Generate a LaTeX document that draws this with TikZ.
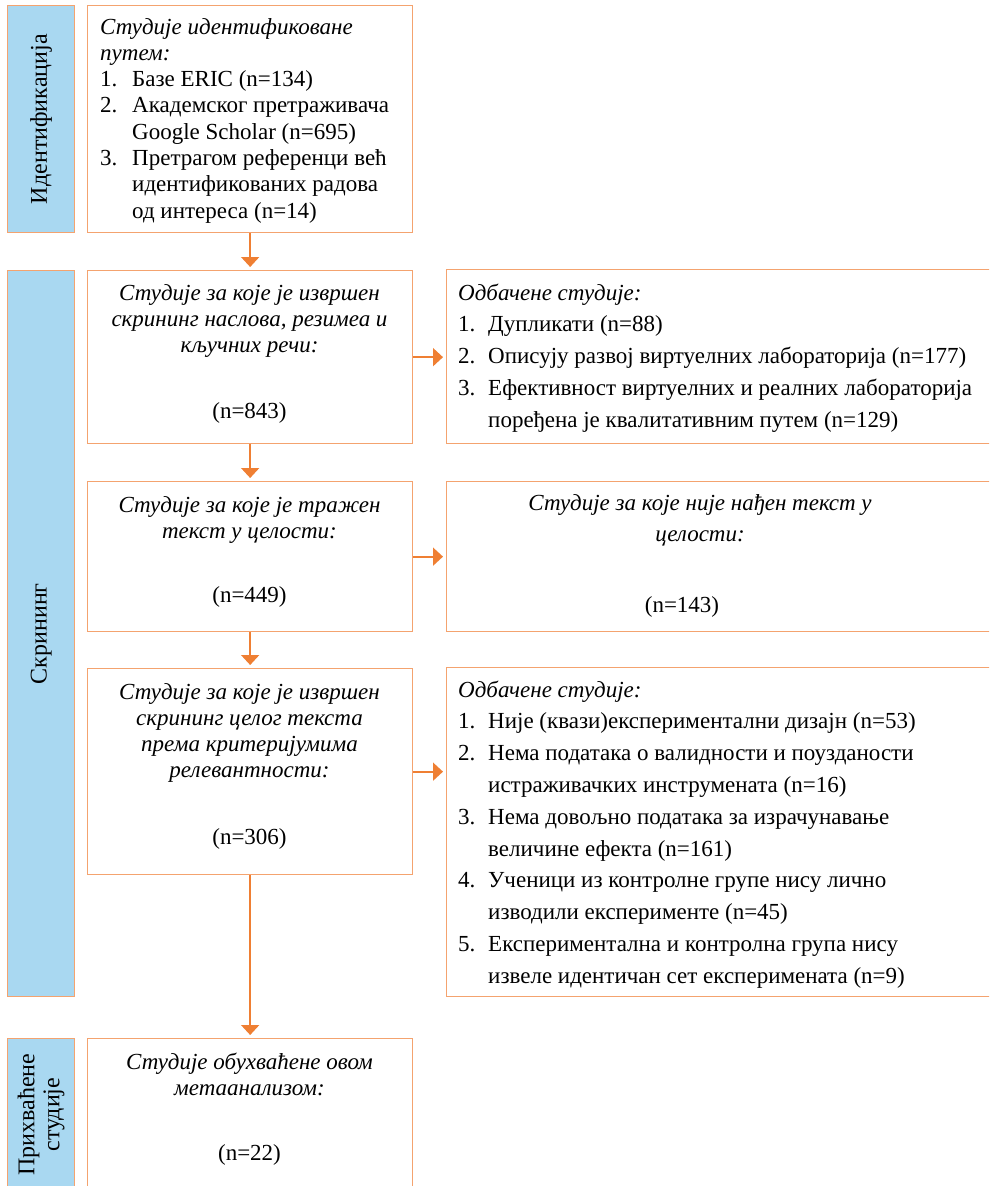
\documentclass[tikz,border=0pt]{standalone}
\usepackage{fontspec}
\setmainfont{Liberation Serif}[Script=Cyrillic,Language=Serbian]
\usetikzlibrary{arrows.meta}
\definecolor{boxline}{HTML}{F4A36F}
\definecolor{arrowline}{HTML}{EF7F33}
\definecolor{stagefill}{HTML}{A9D8F1}
\newcommand{\maintext}{\fontsize{23}{26.3}\selectfont}
\newcommand{\listtext}{\fontsize{23}{31.8}\selectfont}
\begin{document}
\begin{tikzpicture}[x=1pt,y=-1pt,
  stagebox/.style={draw=boxline,fill=stagefill,line width=1.3pt,anchor=north west,inner sep=0pt},
  flowbox/.style={draw=boxline,fill=white,line width=1.3pt,anchor=north west,inner sep=0pt},
  stagelabel/.style={rotate=90,align=center,font=\fontsize{24}{25}\selectfont,inner sep=0pt},
  boxtitle/.style={anchor=base,font=\maintext\itshape,inner sep=0pt},
  boxcount/.style={anchor=base,font=\maintext,inner sep=0pt},
  boxlist/.style={anchor=base west,font=\listtext,inner sep=0pt},
  flowarrow/.style={draw=arrowline,line width=1.8pt,shorten >=3pt,-{Triangle[width=18pt,length=10pt]}}]
  \useasboundingbox (0,0) rectangle (989,1186);
  \clip (0,0) rectangle (989,1186);

  \node[stagebox,minimum width=67,minimum height=227] (idstage) at (7,5) {};
  \node[stagebox,minimum width=67,minimum height=726] (scrstage) at (7,270) {};
  \node[stagebox,minimum width=67,minimum height=152] (instage) at (7,1038) {};
  \node[stagelabel] (idlabel) at (idstage.center) {Идентификација};
  \node[stagelabel] (scrlabel) at (scrstage.center) {Скрининг};
  \node[stagelabel] (inlabel) at (instage.center) {Прихваћене\\студије};

  \node[flowbox,minimum width=325,minimum height=227] (idbox) at (87,5) {};
  \node[flowbox,minimum width=325,minimum height=173] (scrbox) at (87,270) {};
  \node[flowbox,minimum width=325,minimum height=150] (fullbox) at (87,481) {};
  \node[flowbox,minimum width=325,minimum height=206] (relbox) at (87,668) {};
  \node[flowbox,minimum width=325,minimum height=152] (metabox) at (87,1038) {};
  \node[flowbox,minimum width=560,minimum height=174] (dropone) at (446,269) {};
  \node[flowbox,minimum width=560,minimum height=150] (notfound) at (446,481) {};
  \node[flowbox,minimum width=560,minimum height=329] (droptwo) at (446,667) {};

  \node[anchor=base west,font=\maintext,inner sep=0pt] (idtext) at (100,34) {%
    \begin{tabular}[t]{@{}p{32pt}@{}l@{}}
      \multicolumn{2}{@{}l@{}}{\itshape Студије идентификоване}\\
      \multicolumn{2}{@{}l@{}}{\itshape путем:}\\
      1. & Базе ERIC (n=134)\\
      2. & Академског претраживача\\
         & Google Scholar (n=695)\\
      3. & Претрагом референци већ\\
         & идентификованих радова\\
         & од интереса (n=14)
    \end{tabular}};

  \node[boxtitle] (scrtitle) at (249.5,300) {\begin{tabular}[t]{@{}c@{}}Студије за које је извршен\\скрининг наслова, резимеа и\\кључних речи:\end{tabular}};
  \node[boxcount] (scrcount) at (249.5,418) {(n=843)};
  \node[boxtitle] (fulltitle) at (249.5,512) {\begin{tabular}[t]{@{}c@{}}Студије за које је тражен\\текст у целости:\end{tabular}};
  \node[boxcount] (fullcount) at (249.5,602) {(n=449)};
  \node[boxtitle] (reltitle) at (249.5,699) {\begin{tabular}[t]{@{}c@{}}Студије за које је извршен\\скрининг целог текста\\према критеријумима\\релевантности:\end{tabular}};
  \node[boxcount] (relcount) at (249.5,844) {(n=306)};
  \node[boxtitle] (metatitle) at (249.5,1069) {\begin{tabular}[t]{@{}c@{}}Студије обухваћене овом\\метаанализом:\end{tabular}};
  \node[boxcount] (metacount) at (249.5,1160) {(n=22)};

  \node[boxlist] (droponetext) at (458,300) {%
    \begin{tabular}[t]{@{}p{30pt}@{}l@{}}
      \multicolumn{2}{@{}l@{}}{\itshape Одбачене студије:}\\
      1. & Дупликати (n=88)\\
      2. & Описују развој виртуелних лабораторија (n=177)\\
      3. & Ефективност виртуелних и реалних лабораторија\\
         & поређена је квалитативним путем (n=129)
    \end{tabular}};
  \node[anchor=base,font=\listtext\itshape,inner sep=0pt] (notfoundtitle) at (700,510) {\begin{tabular}[t]{@{}c@{}}Студије за које није нађен текст у\\целости:\end{tabular}};
  \node[boxcount] (notfoundcount) at (682,612) {(n=143)};
  \node[boxlist] (droptwotext) at (458,697) {%
    \begin{tabular}[t]{@{}p{30pt}@{}l@{}}
      \multicolumn{2}{@{}l@{}}{\itshape Одбачене студије:}\\
      1. & Није (квази)експериментални дизајн (n=53)\\
      2. & Нема података о валидности и поузданости\\
         & истраживачких инструмената (n=16)\\
      3. & Нема довољно података за израчунавање\\
         & величине ефекта (n=161)\\
      4. & Ученици из контролне групе нису лично\\
         & изводили експерименте (n=45)\\
      5. & Експериментална и контролна група нису\\
         & извеле идентичан сет експеримената (n=9)
    \end{tabular}};

  \draw[flowarrow] (idbox.south) -- (scrbox.north);
  \draw[flowarrow] (scrbox.south) -- (fullbox.north);
  \draw[flowarrow] (fullbox.south) -- (relbox.north);
  \draw[flowarrow] (relbox.south) -- (metabox.north);
  \draw[flowarrow] (scrbox.east) -- (scrbox.east -| dropone.west);
  \draw[flowarrow] (fullbox.east) -- (fullbox.east -| notfound.west);
  \draw[flowarrow] (relbox.east) -- (relbox.east -| droptwo.west);
\end{tikzpicture}
\end{document}
